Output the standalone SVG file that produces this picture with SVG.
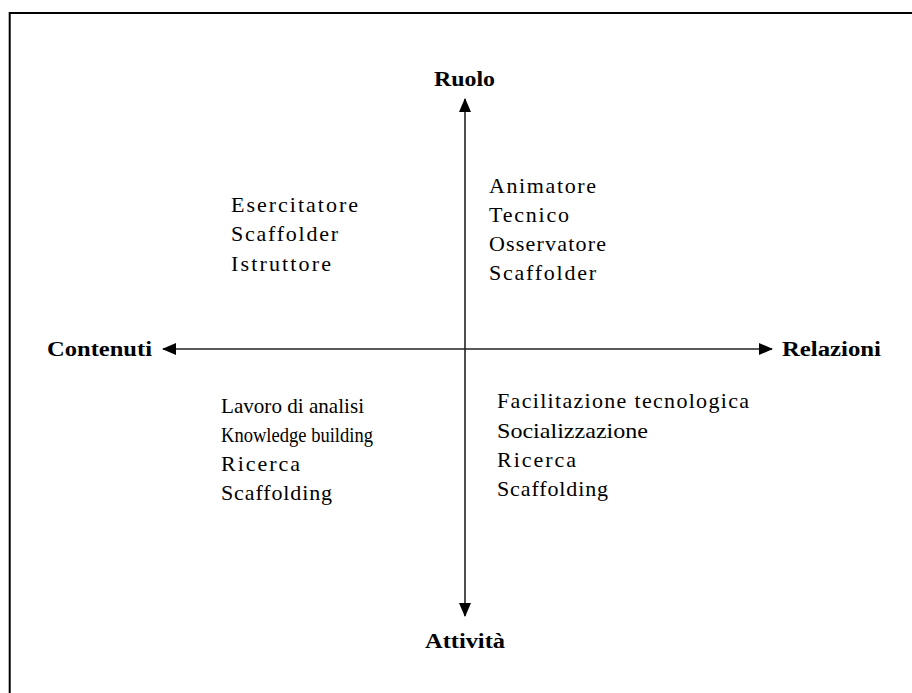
<svg xmlns="http://www.w3.org/2000/svg" width="912" height="693" viewBox="0 0 912 693">
  <style>
    .frame { fill: none; stroke: #000; stroke-width: 2; }
    .axis { stroke: #222; stroke-width: 1.6; fill: none; }
    .head { fill: #000; }
    .label { font-family: "Liberation Serif", "Times New Roman", serif; font-weight: bold; font-size: 20px; fill: #000; }
    .item { font-family: "Liberation Serif", "Times New Roman", serif; font-size: 22px; fill: #000; }
  </style>
  <defs>
    <marker id="arrow" viewBox="0 0 14 12" refX="13" refY="6" markerWidth="14" markerHeight="12" markerUnits="userSpaceOnUse" orient="auto">
      <path class="head" d="M0,0 L14,6 L0,12 Z"/>
    </marker>
  </defs>

  <rect width="912" height="693" fill="#fff"/>
  <rect class="frame" x="9.7" y="13" width="920" height="700"/>

  <!-- axes -->
  <g id="connectors">
    <line class="axis" x1="465" y1="349" x2="465" y2="99" marker-end="url(#arrow)"/>
    <line class="axis" x1="465" y1="349" x2="465" y2="616" marker-end="url(#arrow)"/>
    <line class="axis" x1="465" y1="349" x2="163" y2="349" marker-end="url(#arrow)"/>
    <line class="axis" x1="465" y1="349" x2="772" y2="349" marker-end="url(#arrow)"/>
  </g>

  <!-- axis labels -->
  <g id="ruolo">
    <text class="label" x="434" y="86" textLength="61" lengthAdjust="spacingAndGlyphs">Ruolo</text>
  </g>
  <g id="contenuti">
    <text class="label" x="47" y="356" textLength="105" lengthAdjust="spacingAndGlyphs">Contenuti</text>
  </g>
  <g id="relazioni">
    <text class="label" x="782" y="356" textLength="99" lengthAdjust="spacingAndGlyphs">Relazioni</text>
  </g>
  <g id="attivita">
    <text class="label" x="425" y="648" textLength="80" lengthAdjust="spacingAndGlyphs">Attività</text>
  </g>

  <!-- quadrant contents -->
  <g id="quadrante-contenuti-ruolo">
    <text class="item" x="231" y="212" textLength="127" lengthAdjust="spacing">Esercitatore</text>
    <text class="item" x="231" y="241" textLength="107" lengthAdjust="spacing">Scaffolder</text>
    <text class="item" x="231" y="271" textLength="100" lengthAdjust="spacing">Istruttore</text>
  </g>
  <g id="quadrante-relazioni-ruolo">
    <text class="item" x="489" y="193" textLength="107" lengthAdjust="spacing">Animatore</text>
    <text class="item" x="489" y="222" textLength="80" lengthAdjust="spacing">Tecnico</text>
    <text class="item" x="489" y="251" textLength="117" lengthAdjust="spacing">Osservatore</text>
    <text class="item" x="489" y="280" textLength="107" lengthAdjust="spacing">Scaffolder</text>
  </g>
  <g id="quadrante-contenuti-attivita">
    <text class="item" x="221" y="413" textLength="143" lengthAdjust="spacingAndGlyphs">Lavoro di analisi</text>
    <text class="item" x="221" y="442" textLength="152" lengthAdjust="spacingAndGlyphs">Knowledge building</text>
    <text class="item" x="221" y="471" textLength="79" lengthAdjust="spacing">Ricerca</text>
    <text class="item" x="221" y="500" textLength="111" lengthAdjust="spacing">Scaffolding</text>
  </g>
  <g id="quadrante-relazioni-attivita">
    <text class="item" x="497" y="408" textLength="252" lengthAdjust="spacing">Facilitazione tecnologica</text>
    <text class="item" x="497" y="438" textLength="151" lengthAdjust="spacingAndGlyphs">Socializzazione</text>
    <text class="item" x="497" y="467" textLength="79" lengthAdjust="spacing">Ricerca</text>
    <text class="item" x="497" y="496" textLength="111" lengthAdjust="spacing">Scaffolding</text>
  </g>
</svg>
